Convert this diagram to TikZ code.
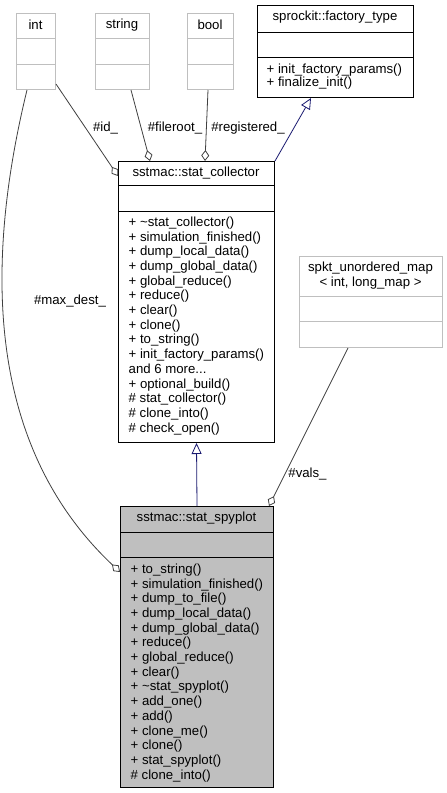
\documentclass[tikz,border=0pt]{standalone}
\usepackage{fontspec}
\setmainfont{Liberation Sans}
\usetikzlibrary{arrows.meta,calc}
\definecolor{edgegray}{HTML}{404040}
\definecolor{boxgray}{HTML}{BFBFBF}
\definecolor{navyblue}{HTML}{191970}
\tikzset{
  ext/.style={draw=boxgray, line width=1pt, inner sep=0pt, anchor=north west},
  cls/.style={draw=black, line width=1pt, inner sep=0pt, anchor=north west},
  sepgray/.style={draw=boxgray, line width=1pt},
  sepblack/.style={draw=black, line width=1pt},
  txt/.style={font=\fontsize{13.2}{14.7}\selectfont, inner sep=0pt},
  mem/.style={txt, align=left, anchor=north west},
  assoc/.style={draw=edgegray, line width=0.8pt, -{Diamond[open,length=11pt,width=8pt]}},
  inh/.style={draw=navyblue, line width=0.8pt, -{Triangle[open,length=11pt,width=10pt]}},
  lbl/.style={txt, fill=white, inner sep=0.5pt},
}
\begin{document}
\begin{tikzpicture}[x=1pt,y=-1pt]
\useasboundingbox (0,0) rectangle (447,793);
\fill[white] (0,0) rectangle (447,793);

% external types
\node[ext, minimum width=39pt, minimum height=76pt] (int) at (16,13) {};
\draw[sepgray] (16,38) -- (55,38) (16,64) -- (55,64);
\node[txt] (intT) at (35.5,25) {int};

\node[ext, minimum width=54pt, minimum height=76pt] (str) at (95,13) {};
\draw[sepgray] (95,38) -- (149,38) (95,64) -- (149,64);
\node[txt] (strT) at (122,25) {string};

\node[ext, minimum width=46pt, minimum height=76pt] (bool) at (187,13) {};
\draw[sepgray] (187,38) -- (233,38) (187,64) -- (233,64);
\node[txt] (boolT) at (210,25) {bool};

% factory_type
\node[cls, minimum width=156pt, minimum height=92pt] (fac) at (257,5) {};
\draw[sepblack] (257,32) -- (413,32) (257,57) -- (413,57);
\node[txt] (facT) at (335,17) {sprockit::factory\_type};
\node[mem, font=\fontsize{13.2}{13.2}\selectfont] (facM) at (266.5,63.6) {+ init\_factory\_params()\\+ finalize\_init()};

% stat_collector
\node[cls, minimum width=156pt, minimum height=281pt] (col) at (118,161) {};
\draw[sepblack] (118,185) -- (274,185) (118,211) -- (274,211);
\node[txt] (colT) at (196,173) {sstmac::stat\_collector};
\node[mem] (colM) at (128.5,216.6) {+ \textasciitilde stat\_collector()\\
+ simulation\_finished()\\
+ dump\_local\_data()\\
+ dump\_global\_data()\\
+ global\_reduce()\\
+ reduce()\\
+ clear()\\
+ clone()\\
+ to\_string()\\
+ init\_factory\_params()\\
and 6 more...\\
+ optional\_build()\\
\# stat\_collector()\\
\# clone\_into()\\
\# check\_open()};

% spkt_unordered_map
\node[ext, minimum width=143pt, minimum height=91pt] (spkt) at (299,256) {};
\draw[sepgray] (299,296) -- (442,296) (299,321) -- (442,321);
\node[txt, align=center, font=\fontsize{13.2}{15}\selectfont] (spktT) at (370.5,275.5) {spkt\_unordered\_map\\\textless{} int, long\_map \textgreater};

% stat_spyplot
\node[cls, fill=boxgray, minimum width=153pt, minimum height=281pt] (spy) at (120,506) {};
\draw[sepblack] (120,532) -- (273,532) (120,557) -- (273,557);
\node[txt] (spyT) at (196.5,518) {sstmac::stat\_spyplot};
\node[mem] (spyM) at (130.5,563.6) {+ to\_string()\\
+ simulation\_finished()\\
+ dump\_to\_file()\\
+ dump\_local\_data()\\
+ dump\_global\_data()\\
+ reduce()\\
+ global\_reduce()\\
+ clear()\\
+ \textasciitilde stat\_spyplot()\\
+ add\_one()\\
+ add()\\
+ clone\_me()\\
+ clone()\\
+ stat\_spyplot()\\
\# clone\_into()};

% connectors
\draw[assoc] ($(int.south east)+(0,-6)$) -- ($(col.north west)+(0,15)$);
\draw[assoc] ($(str.south west)+(36,0)$) -- ($(col.north west)+(32,0)$);
\draw[assoc] ($(bool.south west)+(21,0)$) -- ($(col.north west)+(87,0)$);
\draw[inh] (col.north east) -- ($(fac.south west)+(54,0)$);
\draw[inh] (spy.north) -- (col.south);
\draw[assoc] ($(spkt.south west)+(49,0)$) -- ($(spy.north east)+(-5,0)$);
\draw[assoc] ($(int.south west)+(11,0)$) .. controls (-12,250) and (-20,440) .. ($(spy.north west)+(0,66)$);

% labels
\node[txt] (lid) at (105.5,128) {\#id\_};
\node[txt] (lfr) at (175,128) {\#fileroot\_};
\node[txt] (lreg) at (248,128) {\#registered\_};
\node[txt] (lmax) at (70,301) {\#max\_dest\_};
\node[txt] (lvals) at (307.5,474) {\#vals\_};
\end{tikzpicture}
\end{document}
